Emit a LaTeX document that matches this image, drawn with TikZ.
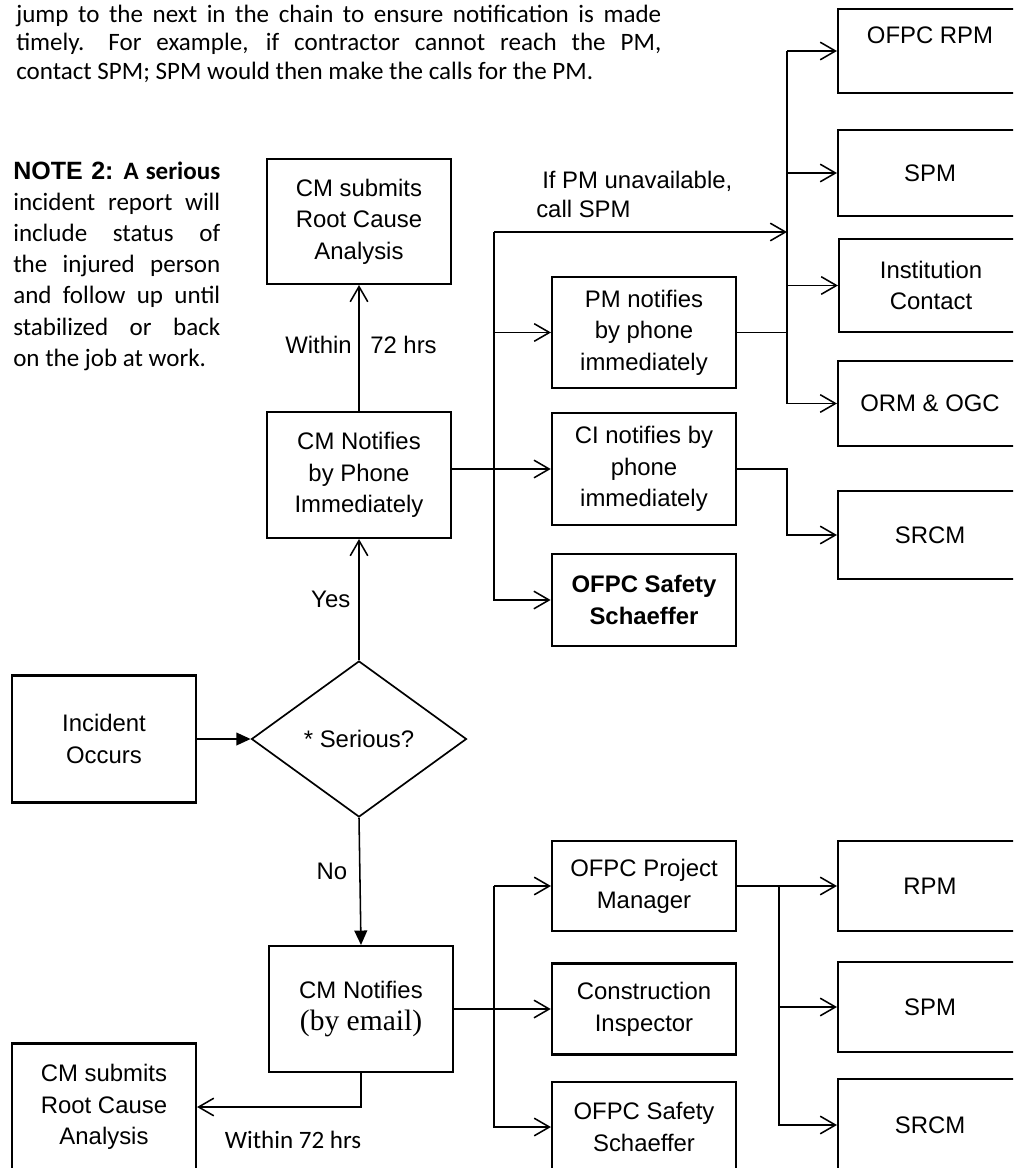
\documentclass[tikz,border=0pt]{standalone}
\usepackage{fontspec}
\usetikzlibrary{shapes.geometric, arrows.meta, positioning}
\setmainfont{Carlito}
\newfontfamily\arialf{Liberation Sans}
\newfontfamily\timesf{Liberation Serif}
\newdimen\px \px=0.025cm
\newcommand{\boxfont}{\arialf\fontsize{17}{22.5}\selectfont}
\newcommand{\notefont}{\fontsize{17.8}{21}\selectfont}

\tikzset{
  box/.style={draw, line width=1.5pt, inner sep=0pt, align=center, font=\boxfont, minimum width=184\px},
  oarr/.style={line width=1.1pt, -{Straight Barb[length=0.38cm,width=0.44cm]}},
  farr/.style={line width=1.1pt, -{Triangle[length=0.36cm,width=0.32cm]}},
  wire/.style={line width=1.1pt},
  lbl/.style={font=\boxfont, inner sep=0pt}
}

\begin{document}
\begin{tikzpicture}[x=0.025cm, y=-0.025cm]
  \clip (0,0) rectangle (1013,1168); % page frame

  % text above and beside the chart
  \foreach \ty/\tx [count=\k] in {23/{\makebox[645\px][s]{jump to the next in the chain to ensure notification is made}},
      51/{\makebox[645\px][s]{timely.\hspace{24\px}For example, if contractor cannot reach the PM,}},
      80/{contact SPM; SPM would then make the calls for the PM.}}
    \node[anchor=base west, inner sep=0pt, font=\notefont] (top\k) at (16,\ty) {\tx};
  \foreach \ty/\tx [count=\k] in {180/{\makebox[207\px][s]{{\arialf\bfseries NOTE 2:} \bfseries A serious}},
      211/{\makebox[207\px][s]{incident report will}},
      242/{\makebox[207\px][s]{include status of}},
      273/{\makebox[207\px][s]{the injured person}},
      304/{\makebox[207\px][s]{and follow up until}},
      335/{\makebox[207\px][s]{stabilized or back}},
      366/{on the job at work.}}
    \node[anchor=base west, inner sep=0pt, font=\notefont] (note\k) at (13,\ty) {\tx};

  % serious branch
  \node[box, minimum height=125\px] (subtop) at (359,221.5) {CM submits\\Root Cause\\Analysis};
  \node[box, minimum height=126\px] (phone) at (359,475) {CM Notifies\\by Phone\\Immediately};
  \node[box, minimum height=127\px] (incident) at (104,739) {Incident\\Occurs};
  \node[diamond, draw, line width=1.2pt, inner sep=0pt, font=\boxfont,
        minimum width=215\px, minimum height=156\px] (serious) at (359,739) {* Serious?};

  \node[box, minimum height=111\px] (pmcall) at (644,332.5) {PM notifies\\by phone\\immediately};
  \node[box, minimum height=112\px, line width=1.8pt] (cicall) at (644,469) {CI notifies by\\phone\\immediately};
  \node[box, minimum height=92\px, line width=2pt, font=\boxfont\bfseries] (safetytop) at (644,600) {OFPC Safety\\Schaeffer};

  \node[box, minimum height=84\px] (rpmtop) at (930,51) {OFPC RPM\\\mbox{}};
  \node[box, minimum height=86\px] (spmtop) at (930,173) {SPM};
  \node[box, minimum height=93\px] (insttop) at (931,285.5) {Institution\\Contact};
  \node[box, minimum height=85\px] (ormogc) at (930,403.5) {ORM \& OGC};
  \node[box, minimum height=88\px] (srcmtop) at (930,535) {SRCM};

  % not serious branch
  \node[box, minimum height=126\px] (cmemail) at (361,1009) {CM Notifies\\{\timesf\fontsize{21}{24}\selectfont (by email)}};
  \node[box, minimum height=127\px] (subbot) at (104,1107) {CM submits\\Root Cause\\Analysis};
  \node[box, minimum height=90\px] (opm) at (644,886) {OFPC Project\\Manager};
  \node[box, minimum height=91\px, line width=1.8pt] (cinsp) at (644,1009) {Construction\\Inspector};
  \node[box, minimum height=90\px] (safetybot) at (644,1127) {OFPC Safety\\Schaeffer};
  \node[box, minimum height=90\px] (rpmbot) at (930,886) {RPM};
  \node[box, minimum height=90\px] (spmbot) at (930,1007) {SPM};
  \node[box, minimum height=92\px] (srcmbot) at (930,1125) {SRCM};

  % bus lines
  \coordinate (busA) at (494,232);
  \coordinate (busB) at (787,0);
  \coordinate (busC) at (494,0);
  \coordinate (busD) at (779,0);

  % connectors, serious branch
  \draw[farr] (incident) -- (serious);
  \draw[oarr] (serious.north) -- (phone.south) node[lbl, midway, left=0.2cm] (yes) {Yes};
  \draw[oarr] (phone) -- (subtop);
  \node[lbl, anchor=east] (within) at (352,345) {Within};
  \node[lbl, anchor=west] (hrs) at (370,345) {72 hrs};
  \draw[oarr] (busA) -- (busA -| busB);
  \node[lbl, anchor=west, align=left, font=\arialf\fontsize{17}{20.6}\selectfont] (ifpm) at (536,194.5) {\hspace*{6\px}If PM unavailable,\\call SPM};
  \draw[oarr] (busA) |- (safetytop.west);
  \draw[oarr] (busA |- pmcall.west) -- (pmcall.west);
  \draw[oarr] (phone.east |- cicall.west) -- (cicall.west);
  \draw[wire] (pmcall.east) -- (pmcall.east -| busB);
  \draw[wire] (busB |- rpmtop.west) -- (busB |- ormogc.west);
  \foreach \n in {rpmtop, spmtop, insttop, ormogc}
    \draw[oarr] (busB |- \n.west) -- (\n.west);
  \draw[oarr] (cicall.east) -- (cicall.east -| busB) |- (srcmtop.west);

  % connectors, not serious branch
  \draw[farr] (serious.south) -- (cmemail.north) node[lbl, pos=0.42, left=0.3cm] (no) {No};
  \draw[oarr] (cmemail.south) |- (subbot.east);
  \node[lbl, font=\notefont] (within2) at (293,1140) {Within 72 hrs};
  \draw[oarr] (cmemail.east) -- (cinsp.west);
  \draw[oarr] (busC |- opm.west) -- (opm.west);
  \draw[oarr] (busC |- opm.west) |- (safetybot.west);
  \draw[oarr] (opm.east) -- (rpmbot.west);
  \draw[oarr] (busD |- opm.east) |- (spmbot.west);
  \draw[oarr] (busD |- opm.east) |- (srcmbot.west);
\end{tikzpicture}
\end{document}
